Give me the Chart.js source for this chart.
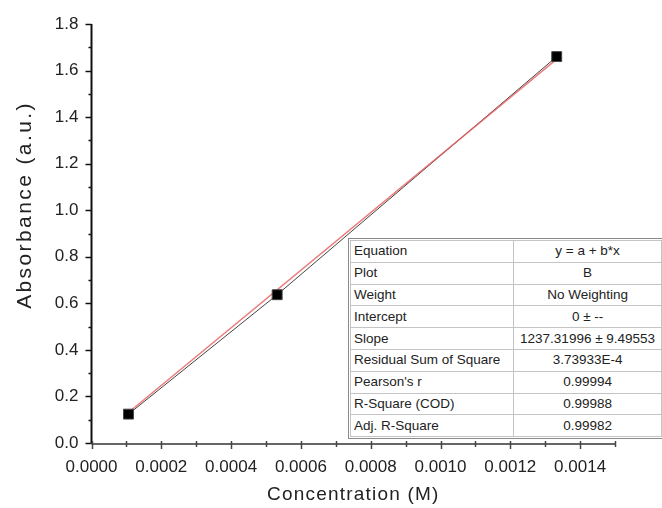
<!DOCTYPE html>
<html>
<head>
<meta charset="utf-8">
<script src="https://cdn.jsdelivr.net/npm/chart.js@4.4.1/dist/chart.umd.min.js"></script>
<style>
  html, body { margin: 0; padding: 0; background: #fff; overflow: hidden; }
  #wrap { position: relative; width: 662px; height: 508px; overflow: hidden; }
  #plot { position: absolute; left: 0; top: 0; }
  #fit {
    position: absolute; left: 350px; top: 240px;
    border-collapse: collapse; background: #fff;
    font-family: "Liberation Sans", Arial, sans-serif; font-size: 13.5px; color: #222;
    outline: 1px solid #8a8a8a; outline-offset: 1px;
  }
  #fit td { border: 1px solid #c4c4c4; height: 20.8px; padding: 0 3px; line-height: 20px; white-space: nowrap; }
  #fit td.k { width: 160px; text-align: left; }
  #fit td.v { width: 143px; text-align: center; }
</style>
</head>
<body>
<div id="wrap">
  <canvas id="plot" width="662" height="508"></canvas>
  <table id="fit"><tbody></tbody></table>
</div>
<script>
// Calibration standards: concentration (M) and measured absorbance (a.u.)
const concentration = [0.000106, 0.000532, 0.001333];
const absorbance = [0.124, 0.637, 1.660];

// Linear fit results (intercept fixed at 0)
const fitIntercept = 0;
const fitSlope = 1237.31996;

// Fit report rows
const reportKeys = ["Equation", "Plot", "Weight", "Intercept", "Slope",
  "Residual Sum of Square", "Pearson's r", "R-Square (COD)", "Adj. R-Square"];
const reportValues = ["y = a + b*x", "B", "No Weighting", "0 \u00b1 --", "1237.31996 \u00b1 9.49553",
  "3.73933E-4", "0.99994", "0.99988", "0.99982"];

// Axis ticks
const xTickStep = 0.0002, xMin = 0, xMax = 0.0015;
const yTickStep = 0.2, yMin = 0, yMax = 1.8;

const points = concentration.map((c, i) => ({ x: c, y: absorbance[i] }));
const fitX = [Math.min(...concentration), Math.max(...concentration)];
const fitLine = fitX.map(x => ({ x: x, y: fitIntercept + fitSlope * x }));

// build the report table
const tbody = document.querySelector('#fit tbody');
reportKeys.forEach((k, i) => {
  const tr = document.createElement('tr');
  const a = document.createElement('td'); a.className = 'k'; a.textContent = k;
  const b = document.createElement('td'); b.className = 'v'; b.textContent = reportValues[i];
  tr.appendChild(a); tr.appendChild(b); tbody.appendChild(tr);
});

const FONT = '"Liberation Sans", Arial, sans-serif';

// Axis lines, major/minor tick marks and spaced axis titles
const axesPlugin = {
  id: 'axesPlugin',
  afterDraw(chart) {
    const { ctx, chartArea: ca, scales: { x, y } } = chart;
    ctx.save();
    // y axis
    ctx.strokeStyle = '#111'; ctx.lineWidth = 2;
    ctx.beginPath(); ctx.moveTo(ca.left, ca.top); ctx.lineTo(ca.left, ca.bottom + 1); ctx.stroke();
    for (let i = 0; i <= Math.round((yMax - yMin) / (yTickStep / 2)); i++) {
      const v = yMin + i * yTickStep / 2;
      const py = Math.round(y.getPixelForValue(v)) + 0.5;
      const len = i % 2 === 0 ? 6 : 3;
      ctx.lineWidth = 1.5;
      ctx.beginPath(); ctx.moveTo(ca.left - len, py); ctx.lineTo(ca.left, py); ctx.stroke();
    }
    // x axis
    ctx.strokeStyle = '#666'; ctx.lineWidth = 2;
    ctx.beginPath(); ctx.moveTo(ca.left, ca.bottom + 1); ctx.lineTo(ca.right, ca.bottom + 1); ctx.stroke();
    ctx.strokeStyle = '#444';
    for (let i = 0; i <= Math.round((xMax - xMin) / (xTickStep / 2)); i++) {
      const v = xMin + i * xTickStep / 2;
      const px = Math.round(x.getPixelForValue(v)) + 0.5;
      const len = i % 2 === 0 ? 5 : 3;
      ctx.lineWidth = 1.5;
      ctx.beginPath(); ctx.moveTo(px, ca.bottom - 2); ctx.lineTo(px, ca.bottom + 1 + len); ctx.stroke();
    }
    // titles
    ctx.fillStyle = '#222';
    ctx.textAlign = 'center'; ctx.textBaseline = 'middle';
    ctx.font = '19px ' + FONT;
    ctx.letterSpacing = '1.2px';
    ctx.fillText('Concentration (M)', (ca.left + ca.right) / 2, 495);
    ctx.save();
    ctx.translate(25, 205);
    ctx.rotate(-Math.PI / 2);
    ctx.font = '21px ' + FONT;
    ctx.letterSpacing = '2.4px';
    ctx.fillText('Absorbance (a.u.)', 0, 0);
    ctx.restore();
    ctx.restore();
  }
};

new Chart(document.getElementById('plot'), {
  type: 'scatter',
  data: {
    datasets: [
      { label: 'B', data: points, showLine: false, pointStyle: 'rect', pointRadius: 7, pointHoverRadius: 7,
        backgroundColor: '#000', borderColor: '#444', borderWidth: 1, order: 0 },
      { label: 'Linear Fit of B', data: fitLine, showLine: true, pointRadius: 0,
        borderColor: 'rgba(230,90,90,0.8)', borderWidth: 1.5, order: 1 },
      { label: 'B line', data: points, showLine: true, pointRadius: 0,
        borderColor: '#444', borderWidth: 1, order: 2 }
    ]
  },
  options: {
    responsive: false,
    animation: false,
    layout: { padding: { top: 24, right: 47, left: 0, bottom: 0 } },
    plugins: { legend: { display: false }, tooltip: { enabled: false } },
    scales: {
      x: {
        type: 'linear', min: xMin, max: xMax,
        grid: { display: false, drawTicks: false },
        border: { display: false },
        ticks: { stepSize: xTickStep, includeBounds: false, padding: 14, color: '#222',
          font: { family: FONT, size: 17 }, maxRotation: 0,
          callback: v => Number(v).toFixed(4) },
        afterFit: s => { s.height = 65; }
      },
      y: {
        type: 'linear', min: yMin, max: yMax,
        grid: { display: false, drawTicks: false },
        border: { display: false },
        ticks: { stepSize: yTickStep, padding: 13, color: '#222',
          font: { family: FONT, size: 17 },
          callback: v => Number(v).toFixed(1) },
        afterFit: s => { s.width = 91.5; }
      }
    }
  },
  plugins: [axesPlugin]
});
</script>
</body>
</html>
